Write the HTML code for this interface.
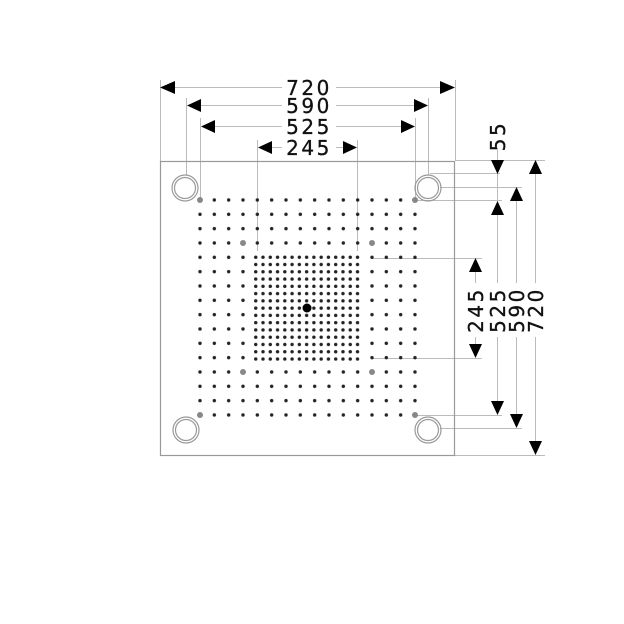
<!DOCTYPE html>
<html><head><style>html,body{margin:0;padding:0;background:#fff}svg{display:block}</style></head>
<body>
<svg width="624" height="624" viewBox="0 0 624 624" xmlns="http://www.w3.org/2000/svg">
<defs>
<pattern id="po" patternUnits="userSpaceOnUse" x="192.83" y="192.83" width="14.333" height="14.333"><circle cx="7.167" cy="7.167" r="1.7" fill="#222"/></pattern>
<pattern id="pi" patternUnits="userSpaceOnUse" x="252.1" y="253.6" width="7.27" height="7.27"><circle cx="3.635" cy="3.635" r="1.7" fill="#222"/></pattern>
</defs>
<g stroke="#bbb" stroke-width="1" fill="none">
<line x1="160.5" y1="80" x2="160.5" y2="161"/>
<line x1="455.5" y1="80" x2="455.5" y2="161"/>
<line x1="186.5" y1="98" x2="186.5" y2="175"/>
<line x1="428.5" y1="98" x2="428.5" y2="175"/>
<line x1="200.5" y1="118" x2="200.5" y2="200"/>
<line x1="415.5" y1="118" x2="415.5" y2="200"/>
<line x1="257.5" y1="140" x2="257.5" y2="257"/>
<line x1="357.5" y1="140" x2="357.5" y2="257"/>
<line x1="170" y1="87.5" x2="446" y2="87.5"/>
<line x1="196" y1="105.5" x2="420" y2="105.5"/>
<line x1="210" y1="126.5" x2="406" y2="126.5"/>
<line x1="266" y1="147.5" x2="350" y2="147.5"/>
<line x1="455" y1="160.5" x2="545" y2="160.5"/>
<line x1="430" y1="173.5" x2="500" y2="173.5"/>
<line x1="440" y1="187.5" x2="522" y2="187.5"/>
<line x1="415" y1="200.5" x2="502" y2="200.5"/>
<line x1="372" y1="258.5" x2="482" y2="258.5"/>
<line x1="372" y1="358.5" x2="482" y2="358.5"/>
<line x1="415" y1="415.5" x2="502" y2="415.5"/>
<line x1="440" y1="428.5" x2="522" y2="428.5"/>
<line x1="455" y1="455.5" x2="545" y2="455.5"/>
<line x1="497.5" y1="150" x2="497.5" y2="410"/>
<line x1="516.5" y1="190" x2="516.5" y2="424"/>
<line x1="535.5" y1="165" x2="535.5" y2="450"/>
<line x1="475.5" y1="265" x2="475.5" y2="352"/>
</g>
<rect x="160.5" y="161.5" width="294" height="294" fill="none" stroke="#999" stroke-width="1.2"/>
<rect x="193" y="193" width="229" height="229" fill="url(#po)"/>
<rect x="251" y="251" width="113" height="113" fill="#fff"/>
<rect x="252" y="253.6" width="109" height="109" fill="url(#pi)"/>
<g fill="#888">
<circle cx="200" cy="200" r="3"/><circle cx="415" cy="200" r="3"/><circle cx="200" cy="415" r="3"/><circle cx="415" cy="415" r="3"/>
<circle cx="243" cy="243" r="3"/><circle cx="372" cy="243" r="3"/><circle cx="243" cy="372" r="3"/><circle cx="372" cy="372" r="3"/>
</g>
<circle cx="307" cy="308" r="4.5" fill="#000"/>
<g fill="none" stroke="#999" stroke-width="1.2">
<circle cx="185" cy="188" r="13"/><circle cx="185" cy="188" r="10.5"/>
<circle cx="428" cy="188" r="13"/><circle cx="428" cy="188" r="10.5"/>
<circle cx="186" cy="430" r="13"/><circle cx="186" cy="430" r="10.5"/>
<circle cx="428" cy="430" r="13"/><circle cx="428" cy="430" r="10.5"/>
</g>
<g fill="#000">
<polygon points="160,87.5 175,81 175,94"/><polygon points="455,87.5 440,81 440,94"/>
<polygon points="187,105.5 201,99 201,112"/><polygon points="428,105.5 414,99 414,112"/>
<polygon points="201,126.5 215,120 215,133"/><polygon points="415,126.5 401,120 401,133"/>
<polygon points="258,147.5 272,141 272,154"/><polygon points="357,147.5 343,141 343,154"/>
<polygon points="535.5,160 529,174 542,174"/><polygon points="535.5,455 529,441 542,441"/>
<polygon points="516.5,187 510,201 523,201"/><polygon points="516.5,428 510,414 523,414"/>
<polygon points="497.5,174 491,160 504,160"/><polygon points="497.5,201 491,215 504,215"/>
<polygon points="497.5,415 491,401 504,401"/>
<polygon points="475.5,258 469,272 482,272"/><polygon points="475.5,358 469,344 482,344"/>
</g>
<g font-family="'DejaVu Sans','Liberation Sans',sans-serif" font-size="20" fill="#111" stroke="#111" stroke-width="0.3" text-anchor="middle" letter-spacing="2.5">
<rect x="282" y="78" width="54" height="20" fill="#fff" stroke="none"/>
<text x="309" y="95">720</text>
<rect x="282" y="96" width="54" height="20" fill="#fff" stroke="none"/>
<text x="309" y="113">590</text>
<rect x="282" y="117" width="54" height="20" fill="#fff" stroke="none"/>
<text x="309" y="134">525</text>
<rect x="282" y="138" width="54" height="20" fill="#fff" stroke="none"/>
<text x="309" y="155">245</text>
<rect x="465" y="283" width="80" height="54" fill="#fff" stroke="none"/>
<text transform="translate(483,310) rotate(-90)">245</text>
<text transform="translate(505,310) rotate(-90)">525</text>
<text transform="translate(524,310) rotate(-90)">590</text>
<text transform="translate(543,310) rotate(-90)">720</text>
<text transform="translate(505,136) rotate(-90)">55</text>
</g>
</svg>
</body></html>
